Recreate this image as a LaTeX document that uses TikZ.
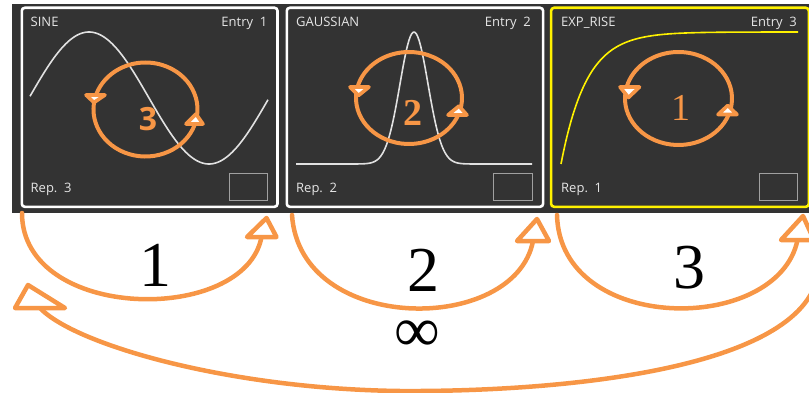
\documentclass[tikz,border=0pt]{standalone}
\usepackage{fontspec}
\setmainfont{Liberation Serif}
\newfontfamily\tnr{Liberation Serif}
\newfontfamily\uifont{Open Sans}
\definecolor{orng}{RGB}{247,150,70}
\definecolor{panelbg}{RGB}{51,51,51}
\definecolor{uitext}{RGB}{230,230,230}
\definecolor{boxgray}{RGB}{160,160,160}
\definecolor{curvegray}{RGB}{225,225,225}
\tikzset{
  panelbox/.style={draw=white,line width=2.6pt,fill=panelbg,rounded corners=3pt},
  selbox/.style={draw=yellow,line width=2.6pt,fill=panelbg,rounded corners=3pt},
  uitxt/.style={font=\uifont\fontsize{13}{15}\selectfont,text=uitext,inner sep=0pt},
  minibox/.style={draw=boxgray,line width=1pt},
  looparc/.style={draw=orng,line width=4pt},
  conn/.style={draw=orng,line width=4.5pt,line cap=round},
  headsmall/.style={draw=orng,fill=white,line width=3.6pt,line join=round},
  headbig/.style={draw=orng,fill=white,line width=4.5pt,line join=round},
  bignum/.style={font=\tnr\fontsize{64}{70}\selectfont,inner sep=0pt},
  loopnum/.style={text=orng,inner sep=0pt},
  curve/.style={draw=curvegray,line width=1.6pt}
}
\begin{document}
\begin{tikzpicture}[x=1pt,y=-1pt]
\useasboundingbox (0,0) rectangle (809,393);
% dark band
\fill[panelbg] (12,4) rectangle (812,213);
% panels
\node[panelbox,minimum width=255.7pt,minimum height=199pt,anchor=north west] (p1) at (20.5,6.5) {};
\node[panelbox,minimum width=256.3pt,minimum height=199pt,anchor=north west] (p2) at (285.5,6.5) {};
\node[selbox,minimum width=257.7pt,minimum height=199pt,anchor=north west] (p3) at (549.8,6.5) {};
% panel texts
\node[uitxt,anchor=base west] (t1a) at (30.5,27) {SINE};
\node[uitxt,anchor=base east] (t1b) at (267.5,27) {Entry\ \ 1};
\node[uitxt,anchor=base west] (t1c) at (30.5,193) {Rep.\ \ 3};
\node[uitxt,anchor=base west] (t2a) at (296,27) {GAUSSIAN};
\node[uitxt,anchor=base east] (t2b) at (531,27) {Entry\ \ 2};
\node[uitxt,anchor=base west] (t2c) at (296,193) {Rep.\ \ 2};
\node[uitxt,anchor=base west] (t3a) at (561,27) {EXP\_RISE};
\node[uitxt,anchor=base east] (t3b) at (797,27) {Entry\ \ 3};
\node[uitxt,anchor=base west] (t3c) at (561,193) {Rep.\ \ 1};
% mini boxes
\draw[minibox] (229,174) rectangle (267,201);
\draw[minibox] (493,174) rectangle (532,201);
\draw[minibox] (759,174) rectangle (797,201);
% curves
\draw[curve] plot[domain=30:268,samples=120] (\x,{98-66*sin((\x-29)*1.5)});
\draw[curve] plot[domain=296:532,samples=160] (\x,{164-132*exp(-min(((\x-414)/14)^2/2,15))});
\draw[draw=yellow,line width=1.6pt] plot[domain=561:798,samples=140] (\x,{164-132*(1-exp(-(\x-561)/25.5))});
% loops
\coordinate (c1) at (145.5,109.5);
\coordinate (c2) at (409,98);
\coordinate (c3) at (678.5,98.5);
\draw[looparc] ([shift={(19:52 and 47)}]c1) arc[start angle=19,end angle=-162,x radius=52,y radius=47];
\draw[looparc] ([shift={(198:52 and 47)}]c1) arc[start angle=198,end angle=19,x radius=52,y radius=47];
\draw[looparc] ([shift={(21.7:53 and 46)}]c2) arc[start angle=21.7,end angle=-166.2,x radius=53,y radius=46];
\draw[looparc] ([shift={(193.8:53 and 46)}]c2) arc[start angle=193.8,end angle=21.7,x radius=53,y radius=46];
\draw[looparc] ([shift={(20.1:53.5 and 46.5)}]c3) arc[start angle=20.1,end angle=-165.7,x radius=53.5,y radius=46.5];
\draw[looparc] ([shift={(194.3:53.5 and 46.5)}]c3) arc[start angle=194.3,end angle=20.1,x radius=53.5,y radius=46.5];
% loop arrowheads
\draw[headsmall] (94,102.5) -- (86,95) -- (105,95) -- cycle;
\draw[headsmall] (196,114) -- (186,124) -- (203,124) -- cycle;
\draw[headsmall] (358.5,95.5) -- (350,87) -- (369,87) -- cycle;
\draw[headsmall] (459,106) -- (448,115) -- (467,115) -- cycle;
\draw[headsmall] (628.5,97.5) -- (620,87) -- (639.5,87) -- cycle;
\draw[headsmall] (727.8,105.5) -- (718,114.5) -- (737,114.5) -- cycle;
\node[loopnum,font=\uifont\bfseries\fontsize{32}{36}\selectfont] (n1) at (148,119) {3};
\node[loopnum,font=\tnr\bfseries\fontsize{38}{42}\selectfont] (n2) at (413,113) {2};
\node[loopnum,font=\tnr\fontsize{38}{42}\selectfont] (n3) at (681,108) {1};
% connectors below
\coordinate (a1s) at (22,213);
\coordinate (a1b) at (261.5,237);
\coordinate (a2s) at (292,215);
\coordinate (a2b) at (533,241);
\coordinate (a3s) at (557,215);
\coordinate (a3b) at (797.5,240);
\coordinate (as) at (818,275);
\coordinate (am) at (400,391);
\coordinate (ab) at (40,308);
\draw[conn] (a1s) .. controls (22,322) and (245,325) .. (a1b);
\draw[conn] (a2s) .. controls (300,335) and (515,335) .. (a2b);
\draw[conn] (a3s) .. controls (560,335) and (778,335) .. (a3b);
\draw[conn] (as) .. controls (800,370) and (560,392) .. (am) .. controls (230,389) and (75,345) .. (ab);
% connector arrowheads
\draw[headbig] (266.5,218) -- (247,237) -- (276.5,237) -- cycle;
\draw[headbig] (537,219) -- (517,241) -- (549,241) -- cycle;
\draw[headbig] (803,216) -- (781,240) -- (814,240) -- cycle;
\draw[headbig] (28,285) -- (15,308) -- (65,308) -- cycle;
\node[bignum,anchor=base] (l1) at (155,286) {1};
\node[bignum,anchor=base] (l2) at (423,291) {2};
\node[bignum,anchor=base] (l3) at (689,288) {3};
\node[bignum,anchor=center] (linf) at (417.5,336.5) {∞};
\end{tikzpicture}
\end{document}
